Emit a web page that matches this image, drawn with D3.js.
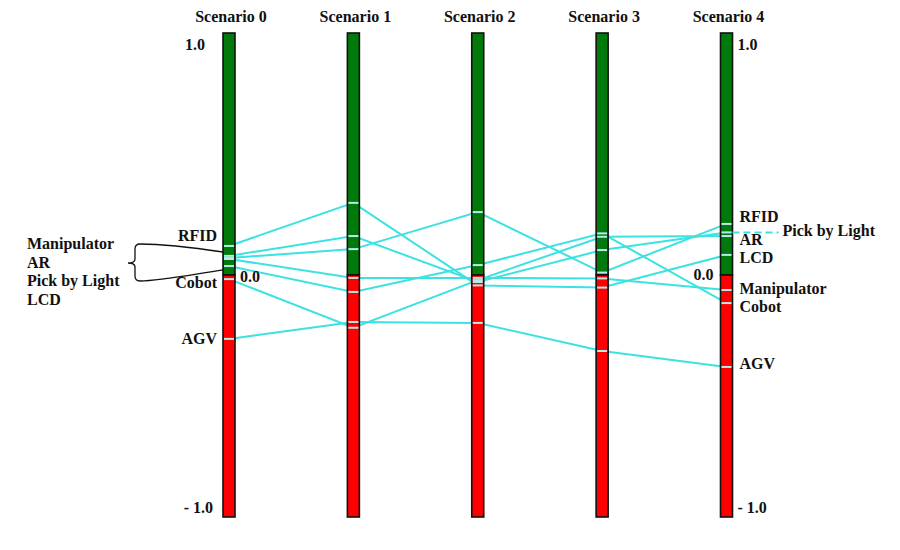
<!DOCTYPE html>
<html>
<head>
<meta charset="utf-8">
<script src="https://d3js.org/d3.v7.min.js"></script>
<style>
body { margin: 0; background: #fff; }
svg { display: block; }
text { font-family: "Liberation Serif", "Times New Roman", serif; font-weight: bold; fill: #111; }
</style>
</head>
<body>
<svg id="chart" width="900" height="550"></svg>
<script>
// scenarios on the x axis
var scenarios = ["Scenario 0", "Scenario 1", "Scenario 2", "Scenario 3", "Scenario 4"];

// score of each technology in each scenario
var rfid        = [0.070, 0.107, 0.260, 0.010, 0.211];
var pickByLight = [0.079, 0.161, -0.029, 0.103, 0.176];
var ar          = [-0.017, -0.218, -0.021, 0.158, 0.161];
var lcd         = [0.120, 0.298, -0.043, -0.052, 0.083];
var manipulator = [0.066, -0.012, -0.012, -0.014, -0.062];
var cobot       = [0.037, -0.070, 0.041, 0.172, -0.116];
var agv         = [-0.264, -0.194, -0.198, -0.314, -0.380];

var series = [rfid, pickByLight, ar, lcd, manipulator, cobot, agv];

// axis tick labels
var topTick = "1.0", zeroTick = "0.0", bottomTick = "- 1.0";

// label names
var leftNames = ["RFID", "Cobot", "AGV"];
var groupNames = ["Manipulator", "AR", "Pick by Light", "LCD"];
var rightNames = ["RFID", "AR", "LCD", "Manipulator", "Cobot", "AGV"];

// ---- layout ----
var svg = d3.select("#chart");
var barW = 12;
var fs = 16;
var lineColor = "#3ce2e2";

var x = d3.scalePoint().domain(scenarios).range([229, 726.5]);
var y = d3.scaleLinear().domain([-1, 1]).range([517, 33]);

// lines first, bars drawn over them
var line = d3.line()
  .x(function(d, i) { return x(scenarios[i]); })
  .y(function(d) { return y(d); });

svg.selectAll("path.tech").data(series).enter().append("path")
  .attr("class", "tech")
  .attr("d", line)
  .attr("fill", "none")
  .attr("stroke", lineColor)
  .attr("stroke-width", 2);

// bars: green part above zero, red part below
var bars = svg.selectAll("g.bar").data(scenarios).enter().append("g").attr("class", "bar");
bars.append("rect")
  .attr("x", function(d) { return x(d) - barW / 2; })
  .attr("y", y(1))
  .attr("width", barW)
  .attr("height", y(0) - y(1))
  .attr("fill", "#007a0a")
  .attr("stroke", "#111")
  .attr("stroke-width", 1.6);
bars.append("rect")
  .attr("x", function(d) { return x(d) - barW / 2; })
  .attr("y", y(0))
  .attr("width", barW)
  .attr("height", y(-1) - y(0))
  .attr("fill", "#ff0000")
  .attr("stroke", "#111")
  .attr("stroke-width", 1.6);

// pale marks where the lines meet a bar
series.forEach(function(s) {
  s.forEach(function(v, i) {
    svg.append("line")
      .attr("x1", x(scenarios[i]) - barW / 2 + 1)
      .attr("x2", x(scenarios[i]) + barW / 2 - 1)
      .attr("y1", y(v))
      .attr("y2", y(v))
      .attr("stroke", "#b4ecea")
      .attr("stroke-width", 2);
  });
});

// titles
svg.selectAll("text.title").data(scenarios).enter().append("text")
  .attr("class", "title")
  .attr("x", function(d) { return x(d) + 2; })
  .attr("y", 22)
  .attr("text-anchor", "middle")
  .attr("font-size", fs)
  .text(function(d) { return d; });

// tick labels on first and last bar
var x0 = x(scenarios[0]), x4 = x(scenarios[4]);
svg.append("text").attr("x", x0 - 24).attr("y", y(1) + 17).attr("text-anchor", "end").attr("font-size", fs).text(topTick);
svg.append("text").attr("x", x0 - 16).attr("y", y(-1) - 4).attr("text-anchor", "end").attr("font-size", fs).text(bottomTick);
svg.append("text").attr("x", x0 + 11).attr("y", y(0) + 7).attr("font-size", fs).text(zeroTick);
svg.append("text").attr("x", x4 + 11).attr("y", y(1) + 17).attr("font-size", fs).text(topTick);
svg.append("text").attr("x", x4 + 11).attr("y", y(-1) - 4).attr("font-size", fs).text(bottomTick);
svg.append("text").attr("x", x4 - 13).attr("y", y(0) + 5).attr("text-anchor", "end").attr("font-size", fs).text(zeroTick);

// labels left of scenario 0
var leftY = [241, 288, 344];
leftNames.forEach(function(n, i) {
  svg.append("text").attr("x", x0 - 12).attr("y", leftY[i])
    .attr("text-anchor", "end").attr("font-size", fs).text(n);
});

// grouped labels with the brace
groupNames.forEach(function(n, i) {
  svg.append("text").attr("x", 27).attr("y", 249 + i * 18.7)
    .attr("font-size", fs).text(n);
});
var bx = 135, tip = 128, braceTop = 244, braceBot = 281, braceMid = 263;
var ends = [y(0.095), y(0.021)];
var brace = d3.path();
brace.moveTo(x0 - barW / 2, ends[0]);
brace.bezierCurveTo(190, ends[0] - 5, 160, braceTop, bx + 5, braceTop);
brace.quadraticCurveTo(bx, braceTop, bx, braceTop + 5);
brace.lineTo(bx, braceMid - 4);
brace.quadraticCurveTo(bx, braceMid, tip, braceMid);
brace.moveTo(tip, braceMid);
brace.quadraticCurveTo(bx, braceMid, bx, braceMid + 4);
brace.lineTo(bx, braceBot - 5);
brace.quadraticCurveTo(bx, braceBot, bx + 5, braceBot);
brace.bezierCurveTo(160, braceBot, 190, ends[1] + 5, x0 - barW / 2, ends[1]);
svg.append("path").attr("d", brace.toString())
  .attr("fill", "none").attr("stroke", "#111").attr("stroke-width", 1.3);

// labels right of scenario 4
var rightY = [222, 245, 263, 294, 312, 369];
rightNames.forEach(function(n, i) {
  svg.append("text").attr("x", x4 + 13).attr("y", rightY[i])
    .attr("font-size", fs).text(n);
});
// Pick by Light with dashed leader
svg.append("line")
  .attr("x1", x4 + barW / 2).attr("x2", x4 + 52)
  .attr("y1", y(pickByLight[4])).attr("y2", y(pickByLight[4]))
  .attr("stroke", lineColor).attr("stroke-width", 2)
  .attr("stroke-dasharray", "7,4");
svg.append("text").attr("x", x4 + 56).attr("y", 236)
  .attr("font-size", fs).text("Pick by Light");
</script>
</body>
</html>
